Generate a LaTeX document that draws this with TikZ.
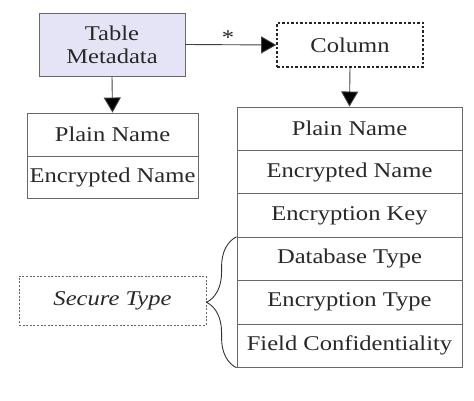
\documentclass[tikz,border=0pt]{standalone}
\usepackage{fontspec}
\setmainfont{Liberation Serif}[FakeStretch=1.17]
\usepackage{tikz}
\usetikzlibrary{arrows.meta,decorations.pathreplacing}

\definecolor{boxgray}{RGB}{105,105,105}
\definecolor{metafill}{RGB}{228,228,246}
\definecolor{textgray}{RGB}{40,40,40}

\tikzset{
    field/.style={draw=boxgray, line width=0.9pt, inner sep=0pt, minimum height=43.4pt},
    arr/.style={-{Triangle[length=15pt,width=17pt,fill=black]}, line width=0.9pt, draw=black!75}
}

\begin{document}
\begin{tikzpicture}[x=1pt,y=-1pt,font=\fontsize{21}{23}\selectfont,text=textgray]

    \useasboundingbox (0,0) rectangle (474,401);

    % top boxes
    \node[draw=boxgray, line width=0.9pt, fill=metafill, minimum width=146pt, minimum height=63pt, inner sep=0pt, align=center] (meta) at (112,44.5) {Table\\Metadata};
    \node[draw=black!85, line width=1.6pt, dash pattern=on 2.5pt off 2pt, minimum width=146pt, minimum height=44pt, inner sep=0pt] (column) at (350,45) {Column};

    % left list
    \node[field, minimum width=171pt, minimum height=43pt] (lplain) at (112.5,134.5) {Plain Name};
    \node[field, minimum width=171pt, minimum height=42pt] (lenc) at (112.5,177) {Encrypted Name};

    % right list
    \node[field, minimum width=225pt] (rplain) at (349.5,128.7) {Plain Name};
    \node[field, minimum width=225pt] (renc) at (349.5,172.1) {Encrypted Name};
    \node[field, minimum width=225pt] (rkey) at (349.5,215.5) {Encryption Key};
    \node[field, minimum width=225pt] (rdb) at (349.5,258.9) {Database Type};
    \node[field, minimum width=225pt] (rtype) at (349.5,302.3) {Encryption Type};
    \node[field, minimum width=225pt] (rconf) at (349.5,345.7) {Field Confidentiality};

    % secure type
    \node[draw=black!60, line width=0.8pt, dash pattern=on 2pt off 1.6pt, minimum width=187pt, minimum height=49pt, inner sep=0pt] (secure) at (112.5,300.5) {\itshape Secure Type};

    % arrows
    \draw[arr] (meta.east) -- node[above, pos=0.47, yshift=-4pt] (star) {*} (column.west);
    \draw[arr] (meta.south) -- (lplain.north);
    \draw[arr] (column.south) -- (rplain.north);

    % brace
    \draw[line width=0.9pt, draw=black!80, decorate, decoration={brace, amplitude=30pt}] (rconf.south west) -- (rdb.north west);

\end{tikzpicture}
\end{document}
